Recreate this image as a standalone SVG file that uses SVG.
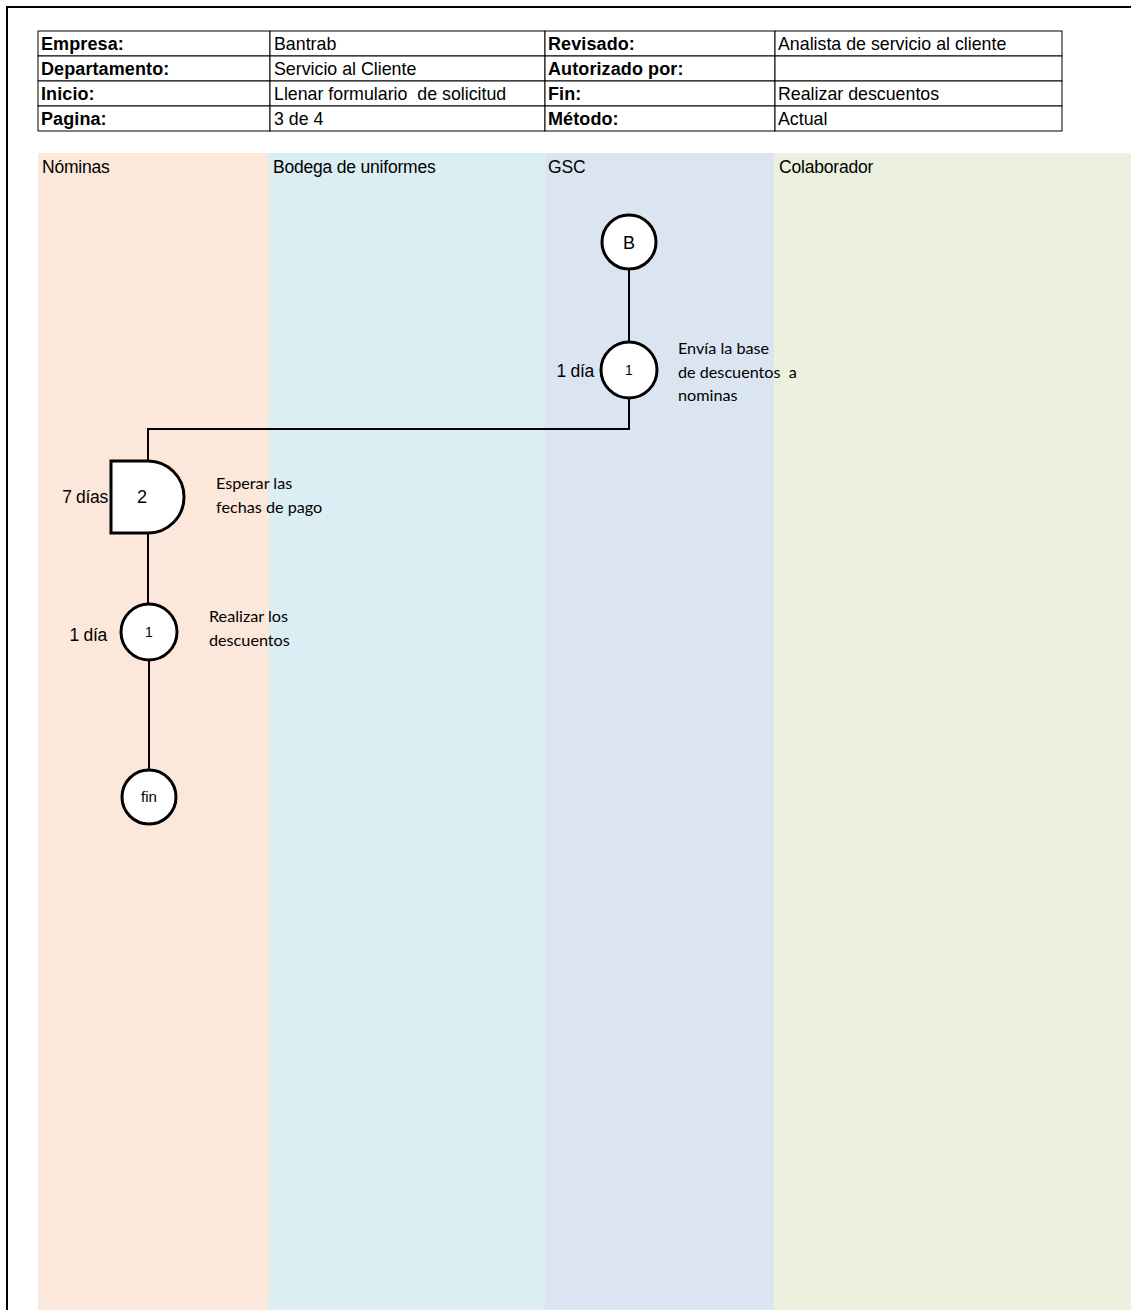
<svg xmlns="http://www.w3.org/2000/svg" width="1131" height="1310" viewBox="0 0 1131 1310">
<style>
.cell{fill:#fff;stroke:#000;stroke-width:1}
.lab{font-family:"Liberation Sans",Arial,sans-serif;font-size:18px;font-weight:bold;fill:#000;letter-spacing:0.1px}
.val{font-family:"Liberation Sans",Arial,sans-serif;font-size:17.8px;fill:#000;letter-spacing:0px}
.lane{font-family:"Liberation Sans",Arial,sans-serif;font-size:17.5px;fill:#000;letter-spacing:-0.2px}
.node{fill:#fff;stroke:#000;stroke-width:3}
.num{font-family:"Liberation Sans",Arial,sans-serif;font-size:14px;fill:#000;text-anchor:middle}
.big{font-family:"Liberation Sans",Arial,sans-serif;font-size:18px;fill:#000;text-anchor:middle}
.desc{font-family:Lato,"Open Sans",sans-serif;font-size:16.2px;fill:#000}
.dur{font-family:"Liberation Sans",Arial,sans-serif;font-size:17.5px;fill:#000;text-anchor:end;letter-spacing:-0.3px}
.conn{fill:none;stroke:#000;stroke-width:2}
</style>
<rect width="1131" height="1310" fill="#fff"/>
<path d="M7,1310 V7 H1131" fill="none" stroke="#000" stroke-width="2"/>
<g id="lanes">
<rect x="38" y="153" width="231" height="1157" fill="#FCE8DA"/>
<rect x="269" y="153" width="276" height="1157" fill="#DBEEF4"/>
<rect x="545" y="153" width="229" height="1157" fill="#DBE5F1"/>
<rect x="774" y="153" width="357" height="1157" fill="#EBF1DE"/>
<text class="lane" x="42" y="173">Nóminas</text>
<text class="lane" x="273" y="173">Bodega de uniformes</text>
<text class="lane" x="548" y="173">GSC</text>
<text class="lane" x="779" y="173">Colaborador</text>
</g>
<g id="header">
<rect class="cell" x="38" y="31" width="232" height="25"/>
<rect class="cell" x="270" y="31" width="275" height="25"/>
<rect class="cell" x="545" y="31" width="230" height="25"/>
<rect class="cell" x="775" y="31" width="287" height="25"/>
<rect class="cell" x="38" y="56" width="232" height="25"/>
<rect class="cell" x="270" y="56" width="275" height="25"/>
<rect class="cell" x="545" y="56" width="230" height="25"/>
<rect class="cell" x="775" y="56" width="287" height="25"/>
<rect class="cell" x="38" y="81" width="232" height="25"/>
<rect class="cell" x="270" y="81" width="275" height="25"/>
<rect class="cell" x="545" y="81" width="230" height="25"/>
<rect class="cell" x="775" y="81" width="287" height="25"/>
<rect class="cell" x="38" y="106" width="232" height="25"/>
<rect class="cell" x="270" y="106" width="275" height="25"/>
<rect class="cell" x="545" y="106" width="230" height="25"/>
<rect class="cell" x="775" y="106" width="287" height="25"/>
<text class="lab" x="41" y="50">Empresa:</text>
<text class="val" x="274" y="50">Bantrab</text>
<text class="lab" x="548" y="50">Revisado:</text>
<text class="val" x="778" y="50">Analista de servicio al cliente</text>
<text class="lab" x="41" y="75">Departamento:</text>
<text class="val" x="274" y="75">Servicio al Cliente</text>
<text class="lab" x="548" y="75">Autorizado por:</text>
<text class="lab" x="41" y="100">Inicio:</text>
<text class="val" x="274" y="100" xml:space="preserve">Llenar formulario  de solicitud</text>
<text class="lab" x="548" y="100">Fin:</text>
<text class="val" x="778" y="100">Realizar descuentos</text>
<text class="lab" x="41" y="125">Pagina:</text>
<text class="val" x="274" y="125">3 de 4</text>
<text class="lab" x="548" y="125">Método:</text>
<text class="val" x="778" y="125">Actual</text>
</g>
<g id="connectors">
<line class="conn" x1="629" y1="270" x2="629" y2="342"/>
<path class="conn" d="M629,398 V429 H148 V461"/>
<line class="conn" x1="148" y1="533" x2="148" y2="604"/>
<line class="conn" x1="149" y1="660" x2="149" y2="770"/>
</g>
<g id="node-B">
<circle class="node" cx="629" cy="242" r="27"/>
<text class="big" x="629" y="249">B</text>
</g>
<g id="node-op1-gsc">
<circle class="node" cx="629" cy="370" r="28"/>
<text class="num" x="629" y="375">1</text>
<text class="dur" x="594" y="377">1 día</text>
<text class="desc" x="678" y="354">Envía la base</text>
<text class="desc" x="678" y="378" xml:space="preserve">de descuentos  a</text>
<text class="desc" x="678" y="401">nominas</text>
</g>
<g id="node-delay2">
<path class="node" d="M111,461 H148 A36,36 0 0 1 148,533 H111 Z"/>
<text class="big" x="142" y="503">2</text>
<text class="dur" x="108" y="503">7 días</text>
<text class="desc" x="216" y="489">Esperar las</text>
<text class="desc" x="216" y="513">fechas de pago</text>
</g>
<g id="node-op1-nominas">
<circle class="node" cx="149" cy="632" r="28"/>
<text class="num" x="149" y="637">1</text>
<text class="dur" x="107" y="641">1 día</text>
<text class="desc" x="209" y="622">Realizar los</text>
<text class="desc" x="209" y="646">descuentos</text>
</g>
<g id="node-fin">
<circle class="node" cx="149" cy="797" r="27"/>
<text class="num" x="149" y="802" style="font-size:15px">fin</text>
</g>
</svg>
